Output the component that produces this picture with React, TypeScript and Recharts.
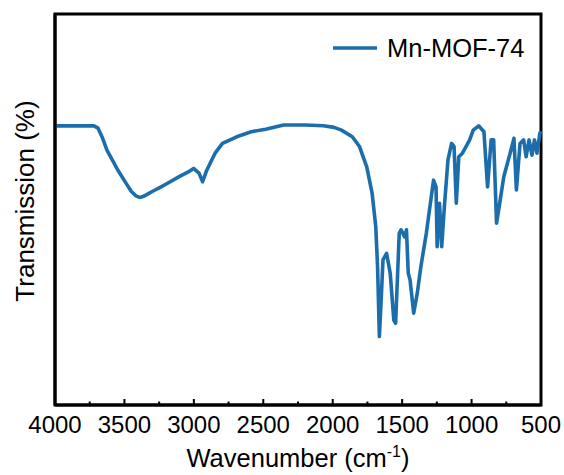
import { Label, LineChart, Line, ReferenceArea, XAxis, YAxis } from "recharts";

const wavenumbers = [
  4000, 3850, 3720, 3690, 3660, 3626, 3548, 3490, 3450, 3418, 3390, 3366, 3330, 3300, 3236, 3170, 3106,
  3040, 3002, 2963, 2937, 2911, 2880, 2847, 2794, 2691, 2587, 2483, 2353, 2197, 2067, 1990, 1937, 1859,
  1807, 1755, 1716, 1690, 1677, 1664, 1651, 1638, 1612, 1586, 1560, 1547, 1521, 1508, 1482, 1469,
  1456, 1443, 1417, 1391, 1365, 1326, 1300, 1274, 1256, 1248, 1231, 1215, 1196, 1170, 1144, 1126,
  1110, 1092, 1066, 1040, 1014, 988, 949, 911, 885, 859, 841, 820, 794, 768, 716, 695, 677, 651, 625,
  607, 586, 565, 547, 529, 508, 500,
];

const transmission = [
  71.4, 71.4, 71.4, 70.8, 68.5, 65.2, 60.1, 56.8, 54.6, 53.5, 53.1, 53.3, 54.0, 54.6, 55.8, 57.1, 58.4,
  59.6, 60.5, 59.3, 57.1, 59.7, 62.0, 64.4, 66.9, 68.6, 69.9, 70.5, 71.6, 71.6, 71.4, 71.0, 70.3, 68.6,
  66.1, 60.9, 54.1, 45.6, 35.4, 17.5, 26.9, 37.1, 38.8, 33.7, 21.7, 20.9, 43.9, 44.8, 43.0, 44.8,
  33.7, 32.0, 23.5, 28.6, 35.4, 43.9, 50.7, 57.5, 55.8, 40.5, 51.6, 40.5, 50.7, 62.7, 66.9, 66.1,
  51.6, 63.5, 64.4, 66.1, 67.8, 70.3, 71.4, 69.9, 55.8, 67.8, 67.8, 46.5, 52.4, 58.4, 65.2, 68.2,
  55.0, 66.9, 67.8, 63.5, 67.8, 63.9, 67.8, 64.4, 69.5, 70.0,
];

const xTicks = [4000, 3750, 3500, 3250, 3000, 2750, 2500, 2250, 2000, 1750, 1500, 1250, 1000, 750, 500];

const data = wavenumbers.map((wn, i) => ({ wn, t: transmission[i] }));

const FONT = "'Liberation Sans', Arial, sans-serif";
const BLUE = "#1b6eab";
const PLOT_BOTTOM = 405;

function XTick(props: any) {
  const { x, payload } = props;
  const v = payload.value as number;
  const major = v % 500 === 0;
  return (
    <g>
      <line x1={x} x2={x} y1={PLOT_BOTTOM} y2={PLOT_BOTTOM - (major ? 6 : 3.5)} stroke="#000" strokeWidth={2} />
      {major && (
        <text x={x} y={PLOT_BOTTOM + 28} textAnchor="middle" fontSize={24} fontFamily={FONT} fill="#000">
          {v}
        </text>
      )}
    </g>
  );
}

function XTitle(props: any) {
  const { viewBox } = props;
  const cx = viewBox.x + viewBox.width / 2;
  return (
    <text x={cx} y={467} textAnchor="middle" fontSize={25.5} fontFamily={FONT} fill="#000">
      Wavenumber (cm
      <tspan fontSize={16} dy={-10}>-1</tspan>
      <tspan dy={10}>)</tspan>
    </text>
  );
}

function YTitle() {
  return (
    <text
      x={0}
      y={0}
      transform="translate(34, 201) rotate(-90)"
      textAnchor="middle"
      fontSize={26}
      fontFamily={FONT}
      fill="#000"
    >
      Transmission (%)
    </text>
  );
}

export default function App() {
  return (
    <div style={{ position: "absolute", left: 0, top: 0, width: 564, height: 475, background: "#fff" }}>
      <LineChart width={564} height={475} data={data} margin={{ top: 14, right: 23, left: 0, bottom: 0 }}>
        <XAxis
          dataKey="wn"
          type="number"
          domain={[500, 4000]}
          reversed
          ticks={xTicks}
          interval={0}
          height={70}
          axisLine={{ stroke: "#000", strokeWidth: 3 }}
          tickLine={false}
          tick={<XTick />}
        >
          <Label content={<XTitle />} />
        </XAxis>
        <YAxis
          type="number"
          domain={[0, 100]}
          width={55}
          tick={false}
          tickLine={false}
          axisLine={{ stroke: "#000", strokeWidth: 3 }}
        >
          <Label content={<YTitle />} />
        </YAxis>
        <ReferenceArea x1={4000} x2={500} y1={0} y2={100} fill="none" stroke="#000" strokeWidth={3} ifOverflow="visible" />
        <Line
          type="linear"
          dataKey="t"
          stroke={BLUE}
          strokeWidth={3.6}
          dot={false}
          isAnimationActive={false}
          strokeLinejoin="round"
        />
      </LineChart>
      <svg width={200} height={30} style={{ position: "absolute", left: 330, top: 33 }}>
        <line x1={3} x2={47} y1={15} y2={15} stroke={BLUE} strokeWidth={3.6} />
        <text x={57} y={24} fontSize={25.5} fontFamily={FONT} fill="#000">
          Mn-MOF-74
        </text>
      </svg>
    </div>
  );
}
